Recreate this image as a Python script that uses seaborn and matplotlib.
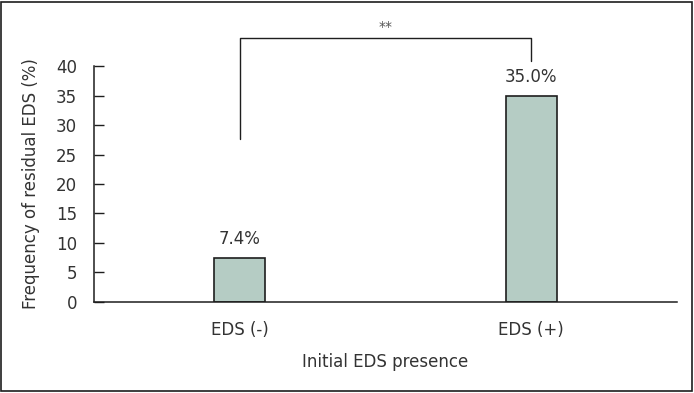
import numpy as np
import pandas as pd
import matplotlib
matplotlib.use("Agg")
import matplotlib.pyplot as plt
import seaborn as sns
from matplotlib.patches import Rectangle

# data
groups = ["EDS (-)", "EDS (+)"]
freq = [7.4, 35.0]
labels = ["7.4%", "35.0%"]
yticks = [0, 5, 10, 15, 20, 25, 30, 35, 40]

BAR = "#b5ccc4"
EDGE = "#1e1e1e"
TXT = "#333333"

sns.set_theme(style="white")
plt.rcParams["font.family"] = ["DejaVu Sans"]

df = pd.DataFrame({"group": groups, "freq": freq})

fig = plt.figure(figsize=(6.94, 3.93), dpi=100)
ax = fig.add_axes([0.1354, 0.2316, 0.8401, 0.6004])

sns.barplot(data=df, x="group", y="freq", ax=ax, color=BAR, width=0.175,
            edgecolor=EDGE, linewidth=1.2, saturation=1)

ax.set_xlim(-0.5, 1.5)
ax.set_ylim(0, 40)
ax.set_yticks(yticks)
ax.tick_params(axis="y", direction="in", length=7, width=1, color=EDGE,
               labelsize=12, labelcolor=TXT, pad=12, left=True)
ax.tick_params(axis="x", length=0, labelsize=12, labelcolor=TXT, pad=14)
for s in ["top", "right"]:
    ax.spines[s].set_visible(False)
for s in ["left", "bottom"]:
    ax.spines[s].set_color(EDGE)
    ax.spines[s].set_linewidth(1.1)

ax.set_xlabel("Initial EDS presence", fontsize=12, color=TXT, labelpad=10)
ax.set_ylabel("Frequency of residual EDS (%)", fontsize=12, color=TXT, labelpad=12)

# value labels above bars
for i, (v, lab) in enumerate(zip(freq, labels)):
    ax.text(i, v + 3.2, lab, ha="center", va="center", fontsize=12, color=TXT)

# significance bracket
ax.plot([0, 0, 1, 1], [27.6, 44.7, 44.7, 40.8], color=EDGE, lw=1, clip_on=False)
ax.text(0.5, 46.6, "**", ha="center", va="center", fontsize=10, color="#555555")

# frame around the whole figure
fig.patches.append(Rectangle((0.002, 0.004), 0.995, 0.991, transform=fig.transFigure,
                             fill=False, edgecolor=EDGE, lw=1.2))

fig.savefig("out.png", dpi=100)
